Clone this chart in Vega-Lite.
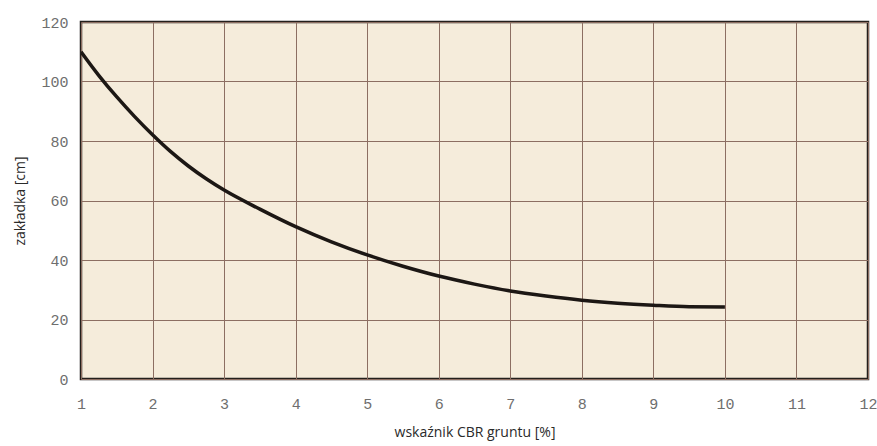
{
  "$schema": "https://vega.github.io/schema/vega-lite/v6.json",
  "width": 787,
  "height": 357,
  "autosize": {"type": "none"},
  "padding": {"left": 81, "top": 22, "right": 9, "bottom": 67},
  "background": "white",
  "view": {"fill": "#f5ecdb", "stroke": "#231f1c", "strokeWidth": 2.5},
  "data": {
    "values": [
      {"cbr": 1, "zakladka": 110},
      {"cbr": 1.25, "zakladka": 102},
      {"cbr": 1.5, "zakladka": 94.8},
      {"cbr": 1.75, "zakladka": 88.2},
      {"cbr": 2, "zakladka": 82.1},
      {"cbr": 2.25, "zakladka": 76.5},
      {"cbr": 2.5, "zakladka": 71.6},
      {"cbr": 2.75, "zakladka": 67.3},
      {"cbr": 3, "zakladka": 63.5},
      {"cbr": 3.5, "zakladka": 57.1},
      {"cbr": 4, "zakladka": 51.2},
      {"cbr": 4.5, "zakladka": 46.1},
      {"cbr": 5, "zakladka": 41.7},
      {"cbr": 5.5, "zakladka": 37.9},
      {"cbr": 6, "zakladka": 34.6},
      {"cbr": 6.5, "zakladka": 31.9},
      {"cbr": 7, "zakladka": 29.6},
      {"cbr": 7.5, "zakladka": 27.9},
      {"cbr": 8, "zakladka": 26.5},
      {"cbr": 8.5, "zakladka": 25.5},
      {"cbr": 9, "zakladka": 24.8},
      {"cbr": 9.5, "zakladka": 24.3},
      {"cbr": 10, "zakladka": 24.2}
    ]
  },
  "mark": {"type": "line", "color": "#1c1714", "strokeWidth": 3.5, "interpolate": "monotone", "clip": true},
  "encoding": {
    "x": {
      "field": "cbr", "type": "quantitative",
      "scale": {"domain": [1, 12], "nice": false, "zero": false},
      "axis": {
        "title": "wskaźnik CBR gruntu [%]",
        "values": [1,2,3,4,5,6,7,8,9,10,11,12],
        "labelOverlap": false,
        "grid": true, "gridColor": "#8c6e62", "gridWidth": 1, "gridOpacity": 1,
        "ticks": false, "domain": false,
        "labelFont": "Liberation Mono", "labelFontSize": 15, "labelColor": "#6e6e6e",
        "labelPadding": 17, "labelFlush": false,
        "titleFont": "Open Sans", "titleFontSize": 14, "titleFontWeight": "normal", "titleColor": "#2a2a2a",
        "titlePadding": 14
      }
    },
    "y": {
      "field": "zakladka", "type": "quantitative",
      "scale": {"domain": [0, 120], "nice": false},
      "axis": {
        "title": "zakładka [cm]",
        "values": [0,20,40,60,80,100,120],
        "labelOverlap": false,
        "grid": true, "gridColor": "#8c6e62", "gridWidth": 1, "gridOpacity": 1,
        "ticks": false, "domain": false,
        "labelFont": "Liberation Mono", "labelFontSize": 15, "labelColor": "#6e6e6e",
        "labelPadding": 13, "labelFlush": false,
        "titleFont": "Open Sans", "titleFontSize": 14, "titleFontWeight": "normal", "titleColor": "#2a2a2a",
        "titlePadding": 13
      }
    }
  }
}
